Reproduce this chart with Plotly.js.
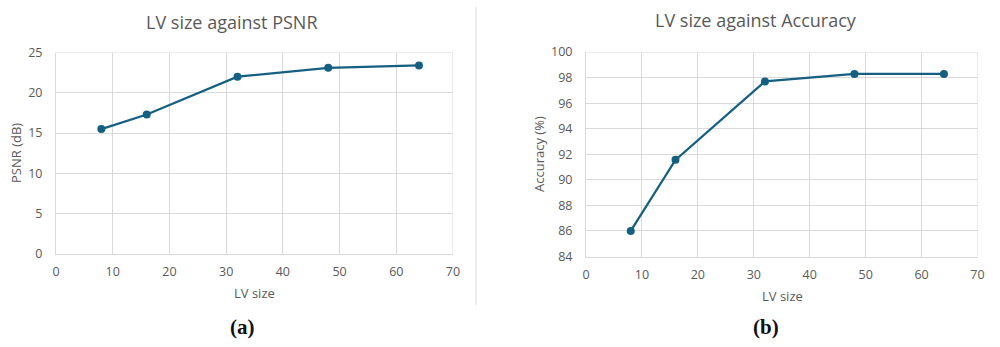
<!DOCTYPE html>
<html>
<head>
<meta charset="utf-8">
<script src="https://cdn.plot.ly/plotly-3.0.1.min.js"></script>
<style>html,body{margin:0;padding:0;background:#fff;}#chart{width:1000px;height:347px;}</style>
</head>
<body>
<div id="chart"></div>
<script>
const lvSize = [8, 16, 32, 48, 64];
const psnr = [15.5, 17.3, 22.0, 23.1, 23.4];
const accuracy = [86.0, 91.56, 97.7, 98.28, 98.28];
const titleA = "LV size against PSNR";
const titleB = "LV size against Accuracy";
const xTitle = "LV size";
const yTitleA = "PSNR (dB)";
const yTitleB = "Accuracy (%)";
const panelA = "(a)";
const panelB = "(b)";

const W = 1000, H = 347;
const px = v => v / W;
const py = v => 1 - v / H;
const lineColor = "#156082";
const grid = "#d9d9d9";
const txt = "#595959";
const fontFam = "Open Sans, Liberation Sans, sans-serif";

const trace = (x, y, xa, ya) => ({
  x: x, y: y, xaxis: xa, yaxis: ya, type: "scatter", mode: "lines+markers",
  line: {color: lineColor, width: 2.25},
  marker: {color: lineColor, size: 8},
  hoverinfo: "x+y"
});

const axCommon = {
  showgrid: true, gridcolor: grid, gridwidth: 1,
  showline: true, linecolor: grid, linewidth: 1, mirror: false,
  zeroline: false, ticks: "", fixedrange: true,
  tickfont: {family: fontFam, size: 12.5, color: txt}
};

const layout = {
  width: W, height: H,
  margin: {l: 0, r: 0, t: 0, b: 0},
  paper_bgcolor: "#fff", plot_bgcolor: "#fff",
  showlegend: false,
  font: {family: fontFam, color: txt},
  xaxis: Object.assign({}, axCommon, {domain: [px(56), px(453)], range: [0, 70], dtick: 10, anchor: "y", ticklabelstandoff: 6}),
  yaxis: Object.assign({}, axCommon, {domain: [py(254), py(52.5)], range: [0, 25], dtick: 5, anchor: "x", ticklabelstandoff: 10}),
  xaxis2: Object.assign({}, axCommon, {domain: [px(586), px(977.5)], range: [0, 70], dtick: 10, anchor: "y2", ticklabelstandoff: 6}),
  yaxis2: Object.assign({}, axCommon, {domain: [py(256.5), py(52)], range: [84, 100], dtick: 2, anchor: "x2", ticklabelstandoff: 10}),
  shapes: [
    {type: "line", xref: "paper", yref: "paper", x0: px(476), x1: px(476), y0: py(7), y1: py(305),
     line: {color: "#d9d9d9", width: 1}},
    {type: "line", xref: "x", yref: "y", x0: 70, x1: 70, y0: 0, y1: 25, line: {color: grid, width: 1}, layer: "below"},
    {type: "line", xref: "x", yref: "y", x0: 0, x1: 70, y0: 25, y1: 25, line: {color: grid, width: 1}, layer: "below"},
    {type: "line", xref: "x2", yref: "y2", x0: 70, x1: 70, y0: 84, y1: 100, line: {color: grid, width: 1}, layer: "below"},
    {type: "line", xref: "x2", yref: "y2", x0: 0, x1: 70, y0: 100, y1: 100, line: {color: grid, width: 1}, layer: "below"}
  ],
  annotations: [
    {text: titleA, xref: "paper", yref: "paper", x: px(232), y: py(22), showarrow: false,
     xanchor: "center", yanchor: "middle", font: {family: fontFam, size: 18, color: txt}},
    {text: titleB, xref: "paper", yref: "paper", x: px(756), y: py(20), showarrow: false,
     xanchor: "center", yanchor: "middle", font: {family: fontFam, size: 18, color: txt}},
    {text: xTitle, xref: "paper", yref: "paper", x: px(254), y: py(293), showarrow: false,
     xanchor: "center", yanchor: "middle", font: {family: fontFam, size: 13, color: txt}},
    {text: xTitle, xref: "paper", yref: "paper", x: px(782), y: py(296), showarrow: false,
     xanchor: "center", yanchor: "middle", font: {family: fontFam, size: 13, color: txt}},
    {text: yTitleA, xref: "paper", yref: "paper", x: px(16), y: py(153), showarrow: false, textangle: -90,
     xanchor: "center", yanchor: "middle", font: {family: fontFam, size: 13, color: txt}},
    {text: yTitleB, xref: "paper", yref: "paper", x: px(539), y: py(154), showarrow: false, textangle: -90,
     xanchor: "center", yanchor: "middle", font: {family: fontFam, size: 13, color: txt}},
    {text: "<b>" + panelA + "</b>", xref: "paper", yref: "paper", x: px(242), y: py(327), showarrow: false,
     xanchor: "center", yanchor: "middle", font: {family: "Liberation Serif, DejaVu Serif, serif", size: 21, color: "#111"}},
    {text: "<b>" + panelB + "</b>", xref: "paper", yref: "paper", x: px(766), y: py(327), showarrow: false,
     xanchor: "center", yanchor: "middle", font: {family: "Liberation Serif, DejaVu Serif, serif", size: 21, color: "#111"}}
  ]
};

Plotly.newPlot("chart", [trace(lvSize, psnr, "x", "y"), trace(lvSize, accuracy, "x2", "y2")], layout,
  {displayModeBar: false, staticPlot: true});
</script>
</body>
</html>
